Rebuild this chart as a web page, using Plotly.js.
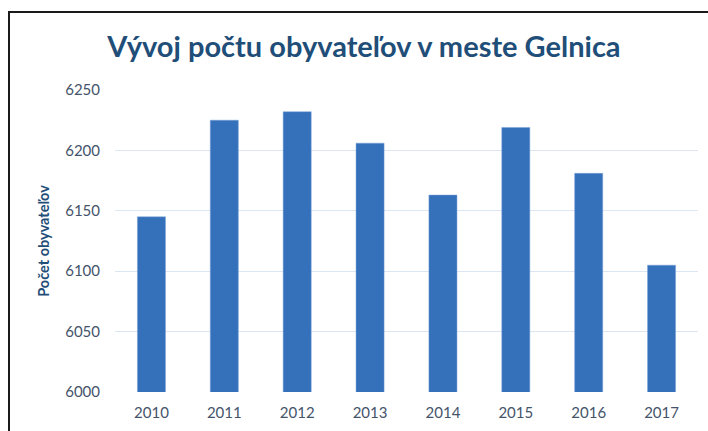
<!DOCTYPE html>
<html>
<head>
<meta charset="utf-8">
<script src="https://cdn.plot.ly/plotly-3.0.1.min.js"></script>
<style>
  html, body { margin: 0; padding: 0; background: #fff; }
  #wrap { position: relative; width: 708px; height: 431px; overflow: hidden; }
  #chart { position: absolute; left: 0; top: 0; width: 708px; height: 431px; }
  #frame { position: absolute; left: 8px; top: 11px; width: 720px; height: 440px;
           border-left: 2px solid #1a1a1a; border-top: 2px solid #1a1a1a; pointer-events: none; }
</style>
</head>
<body>
<div id="wrap">
  <div id="chart"></div>
  <div id="frame"></div>
</div>
<script>
const years = ['2010', '2011', '2012', '2013', '2014', '2015', '2016', '2017'];
const population = [6145, 6225, 6232, 6206, 6163, 6219, 6181, 6105];
const yTicks = [6000, 6050, 6100, 6150, 6200, 6250];

const trace = {
  type: 'bar',
  x: years,
  y: population,
  marker: { color: '#3570bb', line: { width: 0.8, color: 'rgba(120,160,215,0.6)' } },
  hoverinfo: 'x+y'
};

const layout = {
  width: 708,
  height: 431,
  margin: { l: 114.5, r: 10, t: 90, b: 39.3, pad: 0 },
  paper_bgcolor: '#ffffff',
  plot_bgcolor: '#ffffff',
  bargap: 0.615,
  showlegend: false,
  title: {
    text: '<b>Vývoj počtu obyvateľov v meste Gelnica</b>',
    font: { family: 'Lato, "Open Sans", sans-serif', size: 29, color: '#1f4e79' },
    x: 0.514, xanchor: 'center',
    y: 1 - 47 / 431, yanchor: 'middle', yref: 'container'
  },
  xaxis: {
    type: 'category',
    tickfont: { family: 'Lato, "Open Sans", sans-serif', size: 15, color: '#44546a' },
    showgrid: false,
    showline: false,
    zeroline: false,
    ticks: '',
    ticklabelstandoff: 10
  },
  yaxis: {
    range: [6000, 6250],
    tickvals: yTicks,
    ticktext: yTicks.map(String),
    tickfont: { family: 'Lato, "Open Sans", sans-serif', size: 15, color: '#44546a' },
    showgrid: true,
    gridcolor: '#dce6f2',
    gridwidth: 1.3,
    zeroline: false,
    showline: false,
    ticks: '',
    ticklabelstandoff: 14,
    title: {
      text: '<b>Počet obyvateľov</b>',
      font: { family: 'Lato, "Open Sans", sans-serif', size: 14.5, color: '#1f4e79' },
      standoff: 12
    }
  }
};

Plotly.newPlot('chart', [trace], layout, { staticPlot: true, displayModeBar: false });
</script>
</body>
</html>
